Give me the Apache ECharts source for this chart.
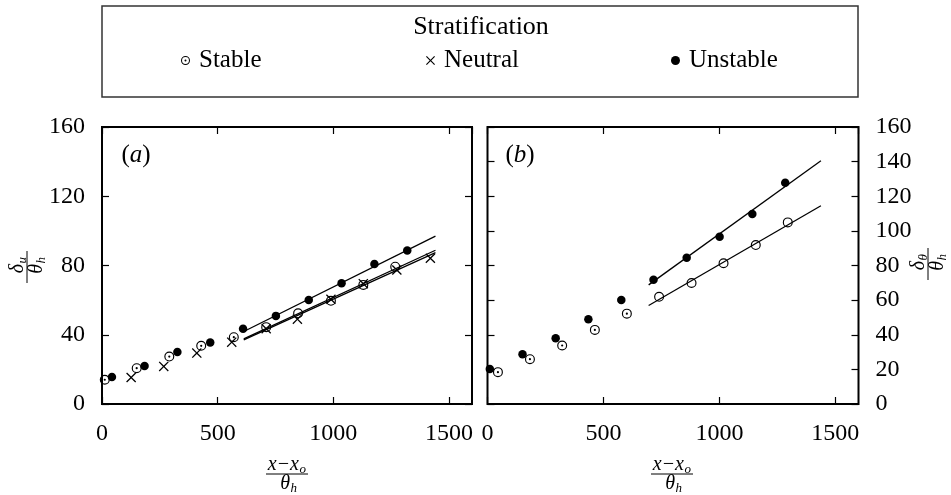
<!DOCTYPE html>
<html><head><meta charset="utf-8">
<script src="https://cdn.jsdelivr.net/npm/echarts@6/dist/echarts.min.js"></script>
<style>html,body{margin:0;padding:0;background:#fff}#c{width:951px;height:495px}</style>
</head><body><div id="c"></div>
<script>
// ---- data ----
const xMin = 0, xMax = 1600, xStep = 500;
const yMin = 0, yMax = 160, yStepA = 40, yStepB = 20;
const legendTitle = 'Stratification';
const panelLabels = ['a', 'b'];

// Panel (a): delta_u / theta_h
const stableA      = [[12,14.0],[150,20.7],[291,27.4],[429,33.6],[570,38.6]];
const stableFitPtA = [[710,44.4],[848,52.4],[990,59.6],[1130,68.8],[1268,79.3]];
const neutralA     = [[126,15.3],[267,21.7],[410,29.4],[561,35.7],[710,43.5],[845,49.0],[990,60.5],[1130,69.5],[1275,77.4],[1420,84.2]];
const unstableA    = [[43,15.6],[184,22.0],[326,30.0],[468,35.5],[610,43.4],[752,50.9],[894,60.1],[1036,69.7],[1178,80.9],[1320,88.6]];
const fitUnstableA = [[613,41.9],[1442,97.0]];
const fitStableA   = [[613,37.6],[1442,88.8]];
const fitNeutralA  = [[613,37.0],[1442,87.4]];

// Panel (b): delta_theta / theta_h
const stableB      = [[45,18.4],[183,25.9],[322,33.8],[463,42.8],[601,52.2]];
const stableFitPtB = [[740,61.9],[880,69.9],[1018,81.3],[1157,91.8],[1295,104.9]];
const unstableB    = [[10,20.2],[151,28.8],[294,38.0],[435,49.0],[577,60.1],[716,71.7],[859,84.5],[1001,96.6],[1142,109.7],[1284,127.8]];
const fitUnstableB = [[695,68.8],[1438,140.5]];
const fitStableB   = [[695,56.9],[1438,114.5]];

// ---- styling ----
const FONT = 'Liberation Serif';
const RING_DOT = 'path://M0,5A5,5 0 1,0 10,5A5,5 0 1,0 0,5Z M1.15,5A3.85,3.85 0 1,1 8.85,5A3.85,3.85 0 1,1 1.15,5Z M3.9,5A1.1,1.1 0 1,0 6.1,5A1.1,1.1 0 1,0 3.9,5Z';
const RING = 'path://M0,5A5,5 0 1,0 10,5A5,5 0 1,0 0,5Z M1.15,5A3.85,3.85 0 1,1 8.85,5A3.85,3.85 0 1,1 1.15,5Z';
const CROSS = 'path://M0,0.9L0.9,0L5,4.1L9.1,0L10,0.9L5.9,5L10,9.1L9.1,10L5,5.9L0.9,10L0,9.1L4.1,5Z';

const tick = {show:true, inside:true, length:7, lineStyle:{color:'#000', width:1.2}};
const lbl = {fontFamily:FONT, fontSize:24, color:'#000', formatter:function(v){return String(v);}};

function xAx(g, pos, show){
  return {gridIndex:g, type:'value', min:xMin, max:xMax, interval:xStep, position:pos,
    axisLine:{show:false, onZero:false}, axisTick:tick, splitLine:{show:false},
    axisLabel: show ? Object.assign({margin:18, showMaxLabel:false}, lbl) : {show:false}};
}
function yAx(g, pos, step, show){
  return {gridIndex:g, type:'value', min:yMin, max:yMax, interval:step, position:pos,
    axisLine:{show:false, onZero:false}, axisTick:tick, splitLine:{show:false},
    axisLabel: show ? Object.assign({margin:17}, lbl) : {show:false}};
}
function fit(name, data, xi, yi){
  return {name:name, type:'line', data:data, xAxisIndex:xi, yAxisIndex:yi, showSymbol:false, silent:true,
    lineStyle:{color:'#000', width:1.3}, z:1, animation:false};
}
function pts(name, data, xi, yi, sym, size){
  return {name:name, type:'scatter', data:data, xAxisIndex:xi, yAxisIndex:yi, symbol:sym, symbolSize:size,
    itemStyle:{color:'#000', opacity:1}, z:3, animation:false};
}
function frac(cx, cy, rot, num, nsub, den, dsub, numShift, half){
  const it = {fontFamily:FONT, fontStyle:'italic', fill:'#000', verticalAlign:'middle'};
  return {type:'group', x:cx, y:cy, rotation:rot, silent:true, children:[
    {type:'text', x:numShift, y:-9, style:Object.assign({text:num, fontSize:20, align:'right'}, it)},
    {type:'text', x:numShift+0.5, y:-4, style:Object.assign({text:nsub, fontSize:13, align:'left'}, it)},
    {type:'line', shape:{x1:-half, y1:0, x2:half, y2:0}, style:{stroke:'#000', lineWidth:1}},
    {type:'text', x:3, y:10, style:Object.assign({text:den, fontSize:20, align:'right'}, it)},
    {type:'text', x:3.5, y:15, style:Object.assign({text:dsub, fontSize:13, align:'left'}, it)}
  ]};
}
function panelLabel(x, y, letter){
  return {type:'text', x:x, y:y, silent:true, style:{text:'{n|(}{i|'+letter+'}{n|)}',
    align:'center', verticalAlign:'middle', fill:'#000',
    rich:{n:{fontFamily:FONT, fontSize:25, fill:'#000'}, i:{fontFamily:FONT, fontSize:25, fontStyle:'italic', fill:'#000'}}}};
}

const legCommon = {padding:0, itemWidth:9, itemHeight:9, selectedMode:false, top:48,
  textStyle:{fontFamily:FONT, fontSize:25, color:'#000', padding:[0,0,6,4]}};

const option = {
  backgroundColor:'#fff',
  animation:false,
  grid:[
    {left:102, right:951-472, top:127, bottom:495-404, show:true, borderColor:'#000', borderWidth:2, backgroundColor:'#fff'},
    {left:487.5, right:951-858.5, top:127, bottom:495-404, show:true, borderColor:'#000', borderWidth:2, backgroundColor:'#fff'}
  ],
  xAxis:[xAx(0,'bottom',true), xAx(0,'top',false), xAx(1,'bottom',true), xAx(1,'top',false)],
  yAxis:[yAx(0,'left',yStepA,true), yAx(0,'right',yStepA,false), yAx(1,'left',yStepB,false), yAx(1,'right',yStepB,true)],
  legend:[
    Object.assign({left:181, data:[{name:'Stable', icon:RING_DOT}]}, legCommon),
    Object.assign({left:426, data:[{name:'Neutral', icon:CROSS}]}, legCommon),
    Object.assign({left:671, data:[{name:'Unstable', icon:'circle'}]}, legCommon)
  ],
  series:[
    fit('fitU_a', fitUnstableA, 0, 0),
    fit('fitS_a', fitStableA, 0, 0),
    fit('fitN_a', fitNeutralA, 0, 0),
    pts('Stable', stableA, 0, 0, RING_DOT, 10),
    pts('Stable', stableFitPtA, 0, 0, RING, 10),
    pts('Neutral', neutralA, 0, 0, CROSS, 10),
    pts('Unstable', unstableA, 0, 0, 'circle', 8.5),
    fit('fitU_b', fitUnstableB, 2, 3),
    fit('fitS_b', fitStableB, 2, 3),
    pts('Stable', stableB, 2, 3, RING_DOT, 10),
    pts('Stable', stableFitPtB, 2, 3, RING, 10),
    pts('Unstable', unstableB, 2, 3, 'circle', 8.5)
  ],
  graphic:[
    {type:'rect', silent:true, shape:{x:102, y:6, width:756, height:91}, style:{fill:'none', stroke:'#333', lineWidth:1.5}},
    {type:'text', x:481, y:27, silent:true, style:{text:legendTitle, fontFamily:FONT, fontSize:26, fill:'#000', align:'center', verticalAlign:'middle'}},
    panelLabel(136, 155, panelLabels[0]),
    panelLabel(520, 155, panelLabels[1]),
    frac(27, 267, Math.PI/2, 'δ', 'u', 'θ', 'h', 3, 16),
    frac(928, 264, Math.PI/2, 'δ', 'θ', 'θ', 'h', 3, 16),
    frac(287, 474, 0, 'x−x', 'o', 'θ', 'h', 12, 21),
    frac(672, 474, 0, 'x−x', 'o', 'θ', 'h', 12, 21)
  ]
};
const chart = echarts.init(document.getElementById('c'), null, {renderer:'canvas'});
chart.setOption(option);
</script></body></html>
